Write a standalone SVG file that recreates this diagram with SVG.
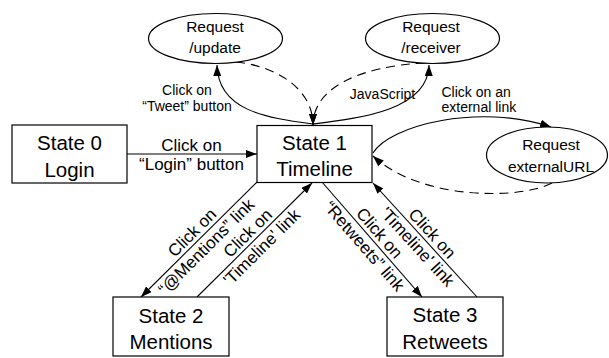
<svg xmlns="http://www.w3.org/2000/svg" width="609" height="358" viewBox="0 0 609 358">
  <style>
    text { font-family: "Liberation Sans", Arial, Helvetica, sans-serif; fill: #000; }
    .box { fill: #fff; stroke: #000; stroke-width: 1.2; }
    .ell { fill: #fff; stroke: #000; stroke-width: 1.2; }
    .state { font-size: 20.5px; text-anchor: middle; }
    .req { font-size: 15.5px; text-anchor: middle; }
    .lbl { font-size: 14px; text-anchor: middle; }
    .lbl17 { font-size: 17px; text-anchor: middle; }
    .edge { fill: none; stroke: #000; stroke-width: 1.1; marker-end: url(#arrow); }
    .dash { stroke-dasharray: 9 6; }
  </style>
  <defs>
    <marker id="arrow" markerUnits="userSpaceOnUse" markerWidth="12" markerHeight="8" refX="11" refY="4" orient="auto">
      <path d="M0,0 L11,4 L0,8 z" fill="#000"/>
    </marker>
  </defs>
  <rect width="609" height="358" fill="#fff"/>

  <g id="connectors">
    <!-- login -->
    <path class="edge" d="M127,154 L257,154"/>
    <!-- tweet -> /update -->
    <path class="edge" d="M313,124 C265,118 218,110 217,65"/>
    <!-- /update response -->
    <path class="edge dash" d="M236,62 C275,66 313,88 313,125"/>
    <!-- javascript -> /receiver -->
    <path class="edge" d="M313,124 C361,118 428,110 429,65"/>
    <!-- /receiver response -->
    <path class="edge dash" d="M425,63 C360,66 313,88 313,125"/>
    <!-- external link -->
    <path class="edge" d="M373,153 C390,125 480,103 551,127"/>
    <path class="edge dash" d="M552,183 C520,200 420,200 373,156"/>
    <!-- timeline <-> mentions -->
    <path class="edge" d="M257,182 L141,297"/>
    <path class="edge" d="M197,297 L312,183"/>
    <!-- timeline <-> retweets -->
    <path class="edge" d="M322,182 L422,297"/>
    <path class="edge" d="M477,297 L373,183"/>
  </g>

  <g id="labels">
    <text class="lbl" x="187" y="95">Click on</text>
    <text class="lbl" x="187" y="111">“Tweet” button</text>
    <text class="lbl" x="382.5" y="99">JavaScript</text>
    <text class="lbl" x="441.5" y="97" style="text-anchor:start">Click on an</text>
    <text class="lbl" x="441.5" y="112" style="text-anchor:start">external link</text>
    <text class="lbl17" x="191.5" y="150.5">Click on</text>
    <text class="lbl17" x="191.5" y="170">“Login” button</text>
    <g transform="translate(199,239.5) rotate(-45)">
      <text class="lbl17" x="0" y="-4">Click on</text>
      <text class="lbl17" x="0" y="16">“@Mentions” link</text>
    </g>
    <g transform="translate(254.5,240) rotate(-44.8)">
      <text class="lbl17" x="0" y="-4">Click on</text>
      <text class="lbl17" x="0" y="16">'Timeline' link</text>
    </g>
    <g transform="translate(372,239.5) rotate(49)">
      <text class="lbl17" x="0" y="-4">Click on</text>
      <text class="lbl17" x="0" y="16">“Retweets” link</text>
    </g>
    <g transform="translate(425,240) rotate(47.6)">
      <text class="lbl17" x="0" y="-4">Click on</text>
      <text class="lbl17" x="0" y="16">'Timeline' link</text>
    </g>
  </g>

  <g id="state0">
    <rect class="box" x="12" y="125" width="115" height="58"/>
    <text class="state" x="69.5" y="150">State 0</text>
    <text class="state" x="69.5" y="176.5">Login</text>
  </g>
  <g id="state1">
    <rect class="box" x="257" y="125.5" width="115" height="57"/>
    <text class="state" x="314.5" y="149.5">State 1</text>
    <text class="state" x="314.5" y="176">Timeline</text>
  </g>
  <g id="state2">
    <rect class="box" x="113" y="297" width="116" height="59"/>
    <text class="state" x="171" y="323">State 2</text>
    <text class="state" x="171" y="349">Mentions</text>
  </g>
  <g id="state3">
    <rect class="box" x="387" y="297" width="116" height="59"/>
    <text class="state" x="445" y="322">State 3</text>
    <text class="state" x="445" y="349">Retweets</text>
  </g>
  <g id="req-update">
    <ellipse class="ell" cx="215.5" cy="38.5" rx="67" ry="25"/>
    <text class="req" x="215" y="32">Request</text>
    <text class="req" x="215" y="53">/update</text>
  </g>
  <g id="req-receiver">
    <ellipse class="ell" cx="432.5" cy="38.5" rx="67" ry="25"/>
    <text class="req" x="431" y="32">Request</text>
    <text class="req" x="431" y="53">/receiver</text>
  </g>
  <g id="req-external">
    <ellipse class="ell" cx="547" cy="155" rx="60.5" ry="28"/>
    <text class="req" x="551" y="150">Request</text>
    <text class="req" x="551" y="171.5">externalURL</text>
  </g>
</svg>
